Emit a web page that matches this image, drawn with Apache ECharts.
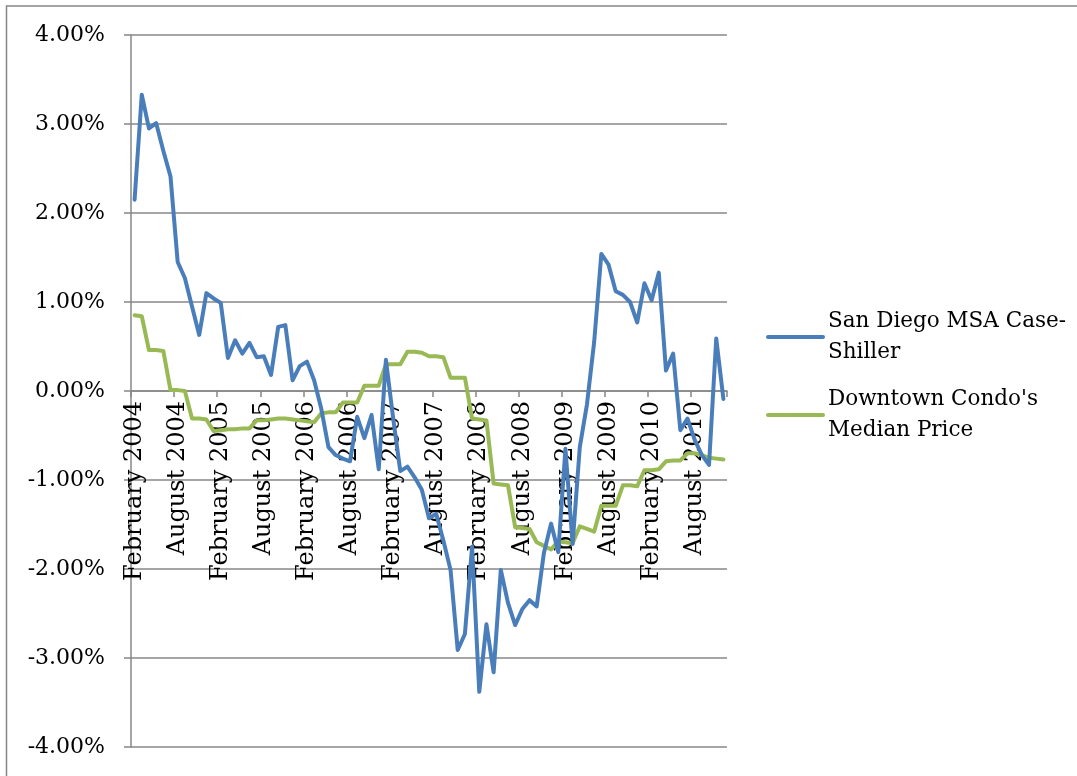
<!DOCTYPE html>
<html>
<head>
<meta charset="utf-8">
<title>San Diego MSA Case-Shiller vs Downtown Condo's Median Price</title>
<script src="https://cdn.jsdelivr.net/npm/echarts@6/dist/echarts.min.js"></script>
<style>
  html, body { margin: 0; padding: 0; background: #ffffff; }
  #chart { width: 1077px; height: 776px; }
</style>
</head>
<body>
<div id="chart"></div>
<script>
// Monthly periods, February 2004 through December 2010
const categories = [
  'February 2004','March 2004','April 2004','May 2004','June 2004','July 2004',
  'August 2004','September 2004','October 2004','November 2004','December 2004','January 2005',
  'February 2005','March 2005','April 2005','May 2005','June 2005','July 2005',
  'August 2005','September 2005','October 2005','November 2005','December 2005','January 2006',
  'February 2006','March 2006','April 2006','May 2006','June 2006','July 2006',
  'August 2006','September 2006','October 2006','November 2006','December 2006','January 2007',
  'February 2007','March 2007','April 2007','May 2007','June 2007','July 2007',
  'August 2007','September 2007','October 2007','November 2007','December 2007','January 2008',
  'February 2008','March 2008','April 2008','May 2008','June 2008','July 2008',
  'August 2008','September 2008','October 2008','November 2008','December 2008','January 2009',
  'February 2009','March 2009','April 2009','May 2009','June 2009','July 2009',
  'August 2009','September 2009','October 2009','November 2009','December 2009','January 2010',
  'February 2010','March 2010','April 2010','May 2010','June 2010','July 2010',
  'August 2010','September 2010','October 2010','November 2010','December 2010'
];

// Monthly change, in percent
const caseShiller = [
  2.15, 3.33, 2.95, 3.01, 2.70, 2.41,
  1.45, 1.27, 0.95, 0.63, 1.10, 1.04,
  0.99, 0.37, 0.57, 0.42, 0.54, 0.38,
  0.39, 0.18, 0.72, 0.74, 0.12, 0.28,
  0.33, 0.12, -0.20, -0.63, -0.72, -0.76,
  -0.79, -0.29, -0.53, -0.27, -0.88, 0.35,
  -0.30, -0.90, -0.85, -0.97, -1.11, -1.43,
  -1.38, -1.68, -2.01, -2.91, -2.73, -1.75,
  -3.38, -2.62, -3.16, -2.01, -2.38, -2.63,
  -2.45, -2.35, -2.42, -1.82, -1.49, -1.81,
  -0.65, -1.72, -0.63, -0.15, 0.55, 1.54,
  1.42, 1.12, 1.08, 1.00, 0.77, 1.21,
  1.02, 1.33, 0.23, 0.42, -0.44, -0.31,
  -0.55, -0.72, -0.83, 0.59, -0.09
];

const condoMedian = [
  0.85, 0.84, 0.46, 0.46, 0.45, 0.01,
  0.01, 0.00, -0.31, -0.31, -0.32, -0.45,
  -0.44, -0.43, -0.43, -0.42, -0.42, -0.33,
  -0.33, -0.32, -0.31, -0.31, -0.32, -0.33,
  -0.34, -0.35, -0.25, -0.24, -0.24, -0.13,
  -0.13, -0.13, 0.06, 0.06, 0.06, 0.30,
  0.30, 0.30, 0.44, 0.44, 0.43, 0.39,
  0.39, 0.38, 0.15, 0.15, 0.15, -0.31,
  -0.32, -0.33, -1.04, -1.05, -1.06, -1.53,
  -1.54, -1.55, -1.70, -1.74, -1.78, -1.69,
  -1.70, -1.71, -1.52, -1.55, -1.58, -1.29,
  -1.29, -1.29, -1.06, -1.06, -1.07, -0.89,
  -0.89, -0.88, -0.79, -0.78, -0.78, -0.70,
  -0.70, -0.72, -0.75, -0.76, -0.77
];

const seriesNames = ["San Diego MSA Case-Shiller", "Downtown Condo's Median Price"];
const legendLines = {
  "San Diego MSA Case-Shiller": "San Diego MSA Case-\nShiller",
  "Downtown Condo's Median Price": "Downtown Condo's\nMedian Price"
};

const FONT = 'DejaVu Serif';
const GRID_GRAY = '#878787';

// Plot box and value range; the category axis sits on the 0% line.
const PLOT_TOP = 35;
const PLOT_BOTTOM = 29;
const PLOT_HEIGHT = 776 - PLOT_TOP - PLOT_BOTTOM;
const Y_MIN = -4;
const Y_MAX = 4;
const zeroShift = -PLOT_HEIGHT * (0 - Y_MIN) / (Y_MAX - Y_MIN);

const chart = echarts.init(document.getElementById('chart'), null, { renderer: 'canvas' });

chart.setOption({
  animation: false,
  backgroundColor: '#ffffff',
  textStyle: { fontFamily: FONT, color: '#000' },
  graphic: [{
    type: 'rect',
    shape: { x: 6.5, y: 6, width: 1200, height: 900 },
    style: { fill: 'none', stroke: GRID_GRAY, lineWidth: 1.5 },
    silent: true,
    z: -1
  }],
  grid: {
    left: 131, right: 350, top: PLOT_TOP, bottom: PLOT_BOTTOM,
    containLabel: false,
    outerBoundsMode: 'none'
  },
  legend: {
    orient: 'vertical',
    left: 766,
    top: 290.5,
    padding: 0,
    itemWidth: 55,
    itemHeight: 4,
    itemGap: -15,
    data: seriesNames,
    formatter: name => legendLines[name],
    lineStyle: { width: 4, cap: 'round' },
    textStyle: {
      fontFamily: FONT,
      fontSize: 21.5,
      color: '#000',
      lineHeight: 31,
      padding: [31, 0, 0, 0]
    }
  },
  xAxis: {
    type: 'category',
    data: categories,
    boundaryGap: true,
    position: 'bottom',
    offset: zeroShift,
    axisLine: { show: true, onZero: false, lineStyle: { color: GRID_GRAY, width: 1.5 } },
    axisTick: { show: true, interval: 5, length: 6, inside: false, lineStyle: { color: GRID_GRAY, width: 1.5 } },
    axisLabel: {
      interval: 5,
      rotate: 90,
      margin: 10,
      fontFamily: FONT,
      fontSize: 24,
      color: '#000'
    },
    splitLine: { show: false }
  },
  yAxis: {
    type: 'value',
    min: Y_MIN,
    max: Y_MAX,
    interval: 1,
    axisLine: { show: true, lineStyle: { color: GRID_GRAY, width: 1.5 } },
    axisTick: { show: true, length: 7, lineStyle: { color: GRID_GRAY, width: 1.5 } },
    axisLabel: {
      margin: 26,
      fontFamily: FONT,
      fontSize: 22,
      color: '#000',
      formatter: v => v.toFixed(2) + '%'
    },
    splitLine: { show: true, lineStyle: { color: GRID_GRAY, width: 1.5 } }
  },
  series: [
    {
      name: seriesNames[0],
      type: 'line',
      data: caseShiller,
      symbol: 'none',
      smooth: false,
      lineStyle: { color: '#4a7ebb', width: 4, cap: 'round', join: 'round' },
      itemStyle: { color: '#4a7ebb' },
      z: 3
    },
    {
      name: seriesNames[1],
      type: 'line',
      data: condoMedian,
      symbol: 'none',
      smooth: false,
      lineStyle: { color: '#98b954', width: 4, cap: 'round', join: 'round' },
      itemStyle: { color: '#98b954' },
      z: 2
    }
  ]
});
</script>
</body>
</html>
